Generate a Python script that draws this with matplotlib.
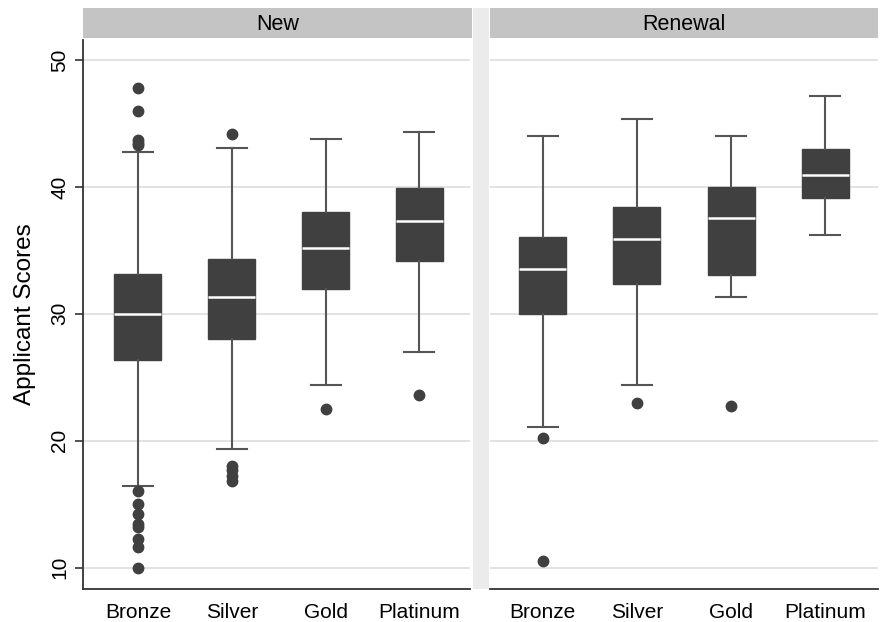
import matplotlib
matplotlib.use("Agg")
import matplotlib.pyplot as plt
from matplotlib.patches import Rectangle

plt.rcParams['font.family'] = ['Liberation Sans', 'DejaVu Sans']

categories = ["Bronze", "Silver", "Gold", "Platinum"]
panels = ["New", "Renewal"]

# New
new_whislo = [16.43, 19.35, 24.39, 26.99]
new_q1 = [26.36, 27.99, 31.98, 34.16]
new_med = [30.0, 31.35, 35.21, 37.29]
new_q3 = [33.16, 34.34, 38.02, 39.94]
new_whishi = [42.73, 43.09, 43.80, 44.33]
new_fliers = [
    [47.82, 46.0, 43.7, 43.5, 43.3, 16.06, 15.0, 14.2, 13.44, 13.2, 12.28, 11.6, 10.0],
    [44.19, 18.03, 17.69, 17.24, 16.82],
    [22.50],
    [23.60],
]

# Renewal
ren_whislo = [21.1, 24.37, 31.32, 36.21]
ren_q1 = [29.98, 32.37, 33.08, 39.13]
ren_med = [33.51, 35.87, 37.58, 40.94]
ren_q3 = [36.03, 38.44, 40.02, 42.96]
ren_whishi = [44.01, 45.33, 44.0, 47.19]
ren_fliers = [
    [20.24, 10.52],
    [23.0],
    [22.73],
    [],
]

yticks = [10, 20, 30, 40, 50]

W, H = 881, 622
fig = plt.figure(figsize=(W / 100, H / 100), dpi=100)
fig.patch.set_facecolor("white")

def fx(px):
    return px / W

def fy(py):
    return 1 - py / H

# grey gap strip between panels
fig.patches.append(Rectangle((fx(473), fy(589)), fx(489) - fx(473), fy(8) - fy(589),
                             transform=fig.transFigure, facecolor="#ebebeb",
                             edgecolor="none", zorder=0))

panel_px = [(83, 470, 472, (-0.585, 3.54)), (490, 878, 878, (-0.56, 3.56))]
data = [
    (new_whislo, new_q1, new_med, new_q3, new_whishi, new_fliers),
    (ren_whislo, ren_q1, ren_med, ren_q3, ren_whishi, ren_fliers),
]

box_color = "#404040"
line_color = "#555555"

for i, (title, (x0, x1, hx1, xl), d) in enumerate(zip(panels, panel_px, data)):
    ax = fig.add_axes([fx(x0), fy(589), fx(x1) - fx(x0), fy(40) - fy(589)])
    wl, q1, med, q3, wh, fl = d
    stats = []
    for k in range(len(categories)):
        stats.append(dict(whislo=wl[k], q1=q1[k], med=med[k], q3=q3[k],
                          whishi=wh[k], fliers=fl[k], label=categories[k]))
    ax.bxp(stats, positions=range(len(categories)), widths=0.5, patch_artist=True,
           showfliers=True,
           boxprops=dict(facecolor=box_color, edgecolor=box_color, linewidth=1),
           medianprops=dict(color="white", linewidth=1.8),
           whiskerprops=dict(color=line_color, linewidth=1.5),
           capprops=dict(color=line_color, linewidth=1.5),
           capwidths=0.32,
           flierprops=dict(marker="o", markerfacecolor=box_color,
                           markeredgecolor=box_color, markersize=7.5))
    ax.set_xlim(*xl)
    ax.set_ylim(8.31, 51.58)
    ax.set_yticks(yticks)
    ax.yaxis.grid(True, color="#dddddd", linewidth=1.2)
    ax.set_axisbelow(True)
    ax.set_xticks(range(len(categories)))
    ax.set_xticklabels(categories, fontsize=15)
    ax.tick_params(axis="x", length=0, pad=10)
    for s in ["top", "right"]:
        ax.spines[s].set_visible(False)
    ax.spines["bottom"].set_color("#333333")
    ax.spines["bottom"].set_linewidth(1.3)
    if i == 0:
        ax.spines["left"].set_color("#333333")
        ax.spines["left"].set_linewidth(1.3)
        ax.set_yticklabels([str(t) for t in yticks], fontsize=15, rotation=90,
                           va="center")
        ax.tick_params(axis="y", length=6, width=1.2, color="#333333", pad=4)
        ax.set_ylabel("Applicant Scores", fontsize=17.5, labelpad=10)
    else:
        ax.spines["left"].set_visible(False)
        ax.tick_params(axis="y", length=0, labelleft=False)
    # header strip
    hax = fig.add_axes([fx(x0), fy(38), fx(hx1) - fx(x0), fy(8) - fy(38)])
    hax.set_facecolor("#c4c4c4")
    hax.set_xticks([])
    hax.set_yticks([])
    for s in hax.spines.values():
        s.set_visible(False)
    hax.text(0.5, 0.45, title, ha="center", va="center", fontsize=15.5,
             transform=hax.transAxes)

fig.savefig("out.png", dpi=100)
